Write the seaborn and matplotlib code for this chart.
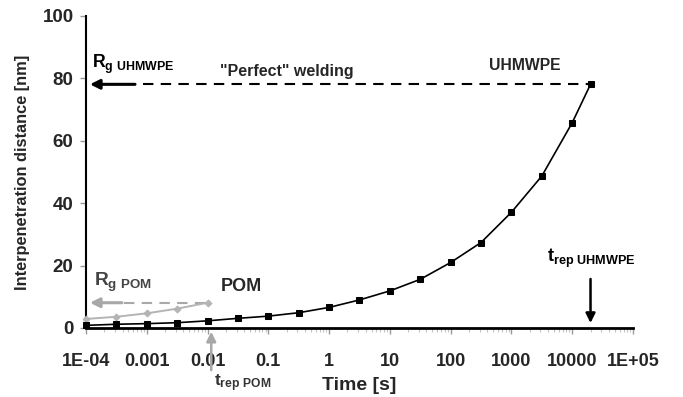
import numpy as np
import pandas as pd
import matplotlib
matplotlib.use("Agg")
import matplotlib.pyplot as plt
import seaborn as sns
from matplotlib.ticker import FixedLocator, LogLocator, NullFormatter

# ---- data ----
uhmwpe_time = [1e-4, 3.16e-4, 1e-3, 3.16e-3, 1e-2, 3.16e-2, 0.1, 0.316, 1, 3.16,
               10, 31.6, 100, 316, 1000, 3160, 10000, 20000]
uhmwpe_dist = [0.85, 1.2, 1.4, 1.7, 2.3, 3.1, 3.8, 4.9, 6.6, 9.0,
               11.9, 15.6, 21.0, 27.4, 37.1, 48.7, 65.8, 78.1]
pom_time = [1e-4, 3.16e-4, 1e-3, 3.16e-3, 1e-2]
pom_dist = [2.9, 3.6, 4.7, 6.2, 8.1]
xtick_values = [1e-4, 1e-3, 1e-2, 1e-1, 1, 10, 100, 1000, 10000, 1e5]
xtick_labels = ["1E-04", "0.001", "0.01", "0.1", "1", "10", "100", "1000", "10000", "1E+05"]
ytick_values = [0, 20, 40, 60, 80, 100]
rg_uhmwpe = 78.1
rg_pom = 8.1
trep_uhmwpe = 20000
trep_pom = 0.0115

sns.set_style("white")
plt.rcParams["font.family"] = ["Liberation Sans", "DejaVu Sans"]
plt.rcParams["font.weight"] = "bold"
plt.rcParams["mathtext.fontset"] = "custom"
plt.rcParams["mathtext.bf"] = "Liberation Sans:bold"
plt.rcParams["mathtext.rm"] = "Liberation Sans:bold"
plt.rcParams["mathtext.it"] = "Liberation Sans:bold"

fig = plt.figure(figsize=(6.83, 3.97), dpi=100)
ax = fig.add_axes([86/683, 1-328/397, (633-86)/683, (328-16)/397])

df_u = pd.DataFrame({"t": uhmwpe_time, "d": uhmwpe_dist})
df_p = pd.DataFrame({"t": pom_time, "d": pom_dist})

sns.lineplot(data=df_p, x="t", y="d", ax=ax, color="#b4b4b4", marker="D",
             markersize=3.5, markeredgecolor="#b4b4b4", linewidth=1.4, clip_on=False, zorder=3)
sns.lineplot(data=df_u, x="t", y="d", ax=ax, color="black", marker="s",
             markersize=5, markeredgecolor="black", linewidth=1.2, clip_on=False, zorder=4)

ax.set_xscale("log")
ax.set_xlim(1e-4, 1e5)
ax.set_ylim(0, 100)

# dashed "perfect welding" lines
ax.plot([8.7e-4, trep_uhmwpe], [rg_uhmwpe, rg_uhmwpe], color="black", lw=1.5,
        dashes=(5, 3.5), zorder=2)
ax.plot([4.2e-4, 1e-2], [rg_pom, rg_pom], color="#a8a8a8", lw=1.5,
        dashes=(5, 3.5), zorder=2)

# arrows to y axis
ax.annotate("", xy=(1.16e-4, rg_uhmwpe), xytext=(6.4e-4, rg_uhmwpe),
            arrowprops=dict(arrowstyle="-|>", color="black", lw=2.2,
                            mutation_scale=14, shrinkA=0, shrinkB=0))
ax.annotate("", xy=(1.16e-4, rg_pom), xytext=(3.9e-4, rg_pom),
            arrowprops=dict(arrowstyle="-|>", color="#a8a8a8", lw=2.2,
                            mutation_scale=14, shrinkA=0, shrinkB=0))
# arrows to x axis
ax.annotate("", xy=(trep_uhmwpe, 1.6), xytext=(trep_uhmwpe, 15.7),
            arrowprops=dict(arrowstyle="-|>", color="black", lw=1.8,
                            mutation_scale=14, shrinkA=0, shrinkB=0),
            annotation_clip=False)
ax.annotate("", xy=(trep_pom, -1.2), xytext=(trep_pom, -13.5),
            arrowprops=dict(arrowstyle="-|>", color="#a8a8a8", lw=1.8,
                            mutation_scale=14, shrinkA=0, shrinkB=0),
            annotation_clip=False)

# texts
ax.text(1.25e-4, 83.3, r"$\mathbf{R_{g\ UHMWPE}}$", fontsize=12.8, color="black", va="baseline")
ax.text(0.2, 82.2, "\"Perfect\" welding", fontsize=11.5, ha="center", va="center")
ax.text(1660, 84.2, "UHMWPE", fontsize=11.3, ha="center", va="center")
ax.text(0.036, 13.2, "POM", fontsize=13, ha="center", va="center")
ax.text(1.35e-4, 13.6, r"$\mathbf{R_{g\ POM}}$", fontsize=13.8, color="#444444", va="baseline")
ax.text(0.0128, -18.6, r"$\mathbf{t_{rep\ POM}}$", fontsize=12.5, color="#333333",
        va="baseline", clip_on=False)
ax.text(3800, 21.3, r"$\mathbf{t_{rep\ UHMWPE}}$", fontsize=13, color="black",
        va="baseline", clip_on=False)

# axes styling
for s in ["top", "right"]:
    ax.spines[s].set_visible(False)
ax.spines["left"].set_linewidth(1.5)
ax.spines["bottom"].set_linewidth(2.0)
ax.spines["left"].set_color("black")
ax.spines["bottom"].set_color("black")

ax.xaxis.set_major_locator(FixedLocator(xtick_values))
ax.set_xticklabels(xtick_labels)
ax.xaxis.set_minor_locator(LogLocator(base=10, subs=np.arange(2, 10), numticks=20))
ax.xaxis.set_minor_formatter(NullFormatter())
ax.set_yticks(ytick_values)
ax.set_yticklabels([str(v) for v in ytick_values])

ax.tick_params(axis="x", which="major", direction="out", length=4, width=1,
               color="#999999", labelsize=13, pad=14, bottom=True)
ax.tick_params(axis="x", which="minor", direction="out", length=3, width=0.8,
               color="#c4c4c4", bottom=True)
ax.tick_params(axis="y", which="major", direction="out", length=4, width=1,
               color="#999999", labelsize=13.5, pad=5, left=True)
for lbl in ax.get_xticklabels() + ax.get_yticklabels():
    lbl.set_fontweight("bold")

ax.set_xlabel("Time [s]", fontsize=14, fontweight="bold", labelpad=5)
ax.set_ylabel("Interpenetration distance [nm]", fontsize=11.8, fontweight="bold", labelpad=9)

fig.savefig("out.png", dpi=100)
